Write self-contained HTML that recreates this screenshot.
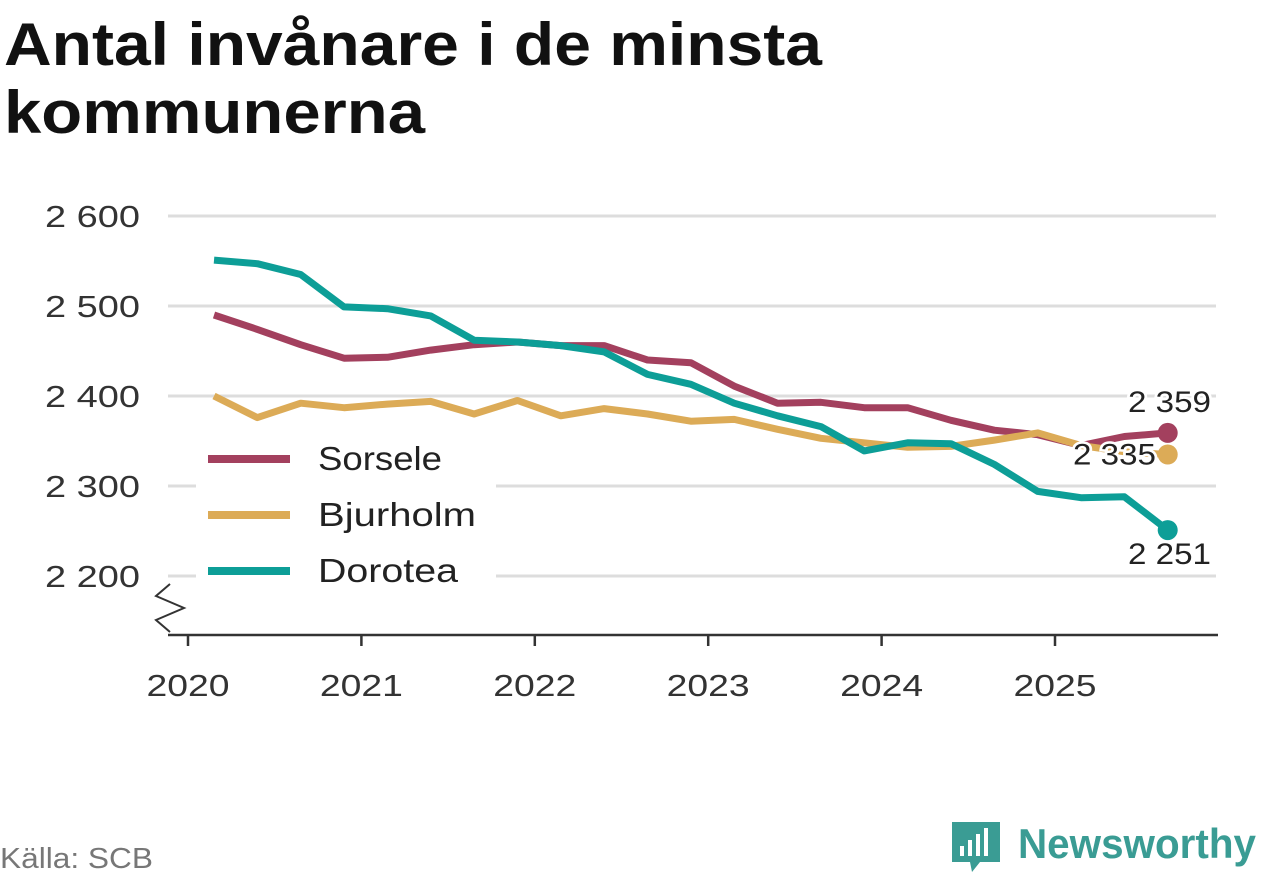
<!DOCTYPE html>
<html><head><meta charset="utf-8"><style>
body{margin:0;background:#fff;width:1262px;height:879px;overflow:hidden;font-family:"Liberation Sans",sans-serif}
</style></head><body>
<svg width="1262" height="879" id="c" font-family="Liberation Sans, sans-serif">
<text x="4" y="65" font-size="60" font-weight="bold" fill="#111" textLength="818" lengthAdjust="spacingAndGlyphs">Antal invånare i de minsta</text>
<text x="4" y="133" font-size="60" font-weight="bold" fill="#111" textLength="421" lengthAdjust="spacingAndGlyphs">kommunerna</text>
<g id="grid"></g><g id="axis"></g><g id="lines"></g><g id="legend"></g><g id="labels"></g>
<text x="0" y="868" font-size="29" fill="#777" textLength="153" lengthAdjust="spacingAndGlyphs">Källa: SCB</text>
<g>
<path d="M952 822 h48 v40 h-20 l-8 10 l-2 -10 h-18 z" fill="#3a9c94"/>
<rect x="960" y="846" width="4" height="10" fill="#fff"/><rect x="968" y="840" width="4" height="16" fill="#fff"/><rect x="976" y="834" width="4" height="22" fill="#fff"/><rect x="984" y="828" width="4" height="28" fill="#fff"/>
<text x="1018" y="858" font-size="42" font-weight="bold" fill="#3a9c94" textLength="238" lengthAdjust="spacingAndGlyphs">Newsworthy</text>
</g>
</svg>
<script>
const ticks=[2200,2300,2400,2500,2600];
const tickLabels=["2 200","2 300","2 400","2 500","2 600"];
const years=[2020,2021,2022,2023,2024,2025];
const names=["Sorsele","Bjurholm","Dorotea"];
const legendWidths=[124,158,140];
const colors=["#a3405e","#dcab57","#0d9e97"];
const sorsele=[2490,2474,2457,2442,2443,2451,2457,2460,2456,2456,2440,2437,2411,2392,2393,2387,2387,2373,2362,2357,2345,2355,2359];
const bjurholm=[2400,2376,2392,2387,2391,2394,2380,2395,2378,2386,2380,2372,2374,2363,2353,2348,2343,2344,2351,2359,2345,2338,2335];
const dorotea=[2551,2547,2535,2499,2497,2489,2462,2460,2456,2449,2424,2413,2392,2378,2366,2339,2348,2347,2324,2294,2287,2288,2251];
const series=[sorsele,bjurholm,dorotea];
const NS="http://www.w3.org/2000/svg";
const y=v=>576-(v-2200)*0.9;
const xYear=yr=>188+(yr-2020)*173.4;
const xIdx=i=>xYear(2020.15+i*0.25);
function mk(p,t,a){const e=document.createElementNS(NS,t);for(const k in a)e.setAttribute(k,a[k]);document.getElementById(p).appendChild(e);return e;}
ticks.forEach((t,i)=>{
 const l=mk("grid","line",{x1:168,x2:1216,y1:y(t),y2:y(t),stroke:"#ddd","stroke-width":3});
 
 
 const tx=mk("grid","text",{x:45,y:y(t)+11,"font-size":31,fill:"#333",textLength:95,lengthAdjust:"spacingAndGlyphs"});
 tx.textContent=tickLabels[i];
 
 
});
const ax=mk("axis","path",{d:"M168 635 H1218",stroke:"#333","stroke-width":2.5,fill:"none"});


const br=mk("axis","path",{d:"M170 584 L156 596 L184 608 L156 620 L170 632",stroke:"#333","stroke-width":2,fill:"none"});


years.forEach(yr=>{
 const x=xYear(yr);
 const t=mk("axis","line",{x1:x,x2:x,y1:635,y2:646,stroke:"#333","stroke-width":2.5});
 
 
 const tx=mk("axis","text",{x:x-41.5,y:696,"font-size":31,fill:"#333",textLength:83,lengthAdjust:"spacingAndGlyphs"});
 tx.textContent=yr;
 
 
});
series.forEach((s,k)=>{
 const p=mk("lines","polyline",{points:s.map((v,i)=>xIdx(i)+","+y(v)).join(" "),fill:"none",stroke:colors[k],"stroke-width":7,"stroke-linejoin":"round"});
 
 
 const last=s.length-1;
 const c=mk("lines","circle",{cx:xIdx(last),cy:y(s[last]),r:10,fill:colors[k]});
 
 
});
const lb=mk("legend","rect",{x:196,y:428,width:300,height:160,fill:"#fff"});


names.forEach((n,k)=>{
 const yy=459+k*56;
 const l=mk("legend","line",{x1:208,x2:290,y1:yy,y2:yy,stroke:colors[k],"stroke-width":8});
 
 
 const t=mk("legend","text",{x:318,y:yy+11,"font-size":33,fill:"#222",textLength:legendWidths[k],lengthAdjust:"spacingAndGlyphs"});
 t.textContent=n;
 
 
});
const offs=[-21,10,34];
const lx=[1128,1073,1128];
series.forEach((s,k)=>{
 const last=s.length-1;
 const v=s[last];
 const t=mk("labels","text",{x:lx[k],y:y(v)+offs[k],"font-size":30,fill:"#222",stroke:"#fff","stroke-width":5,"paint-order":"stroke",textLength:83,lengthAdjust:"spacingAndGlyphs"});
 t.textContent=String(v).replace(/(\d)(\d{3})$/,"$1 $2");
 
 
});
</script>
</body></html>
